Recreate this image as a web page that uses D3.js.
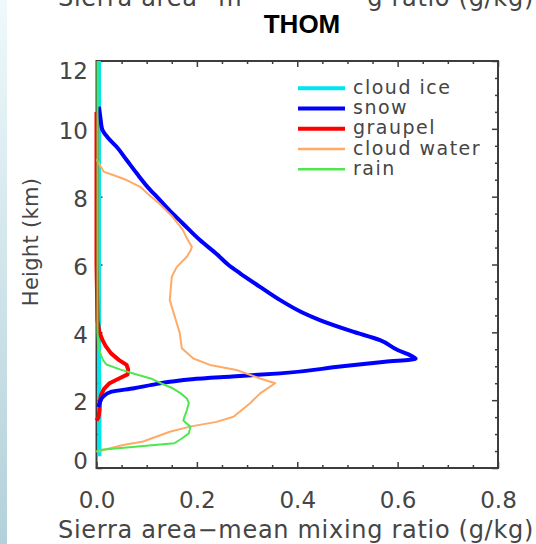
<!DOCTYPE html>
<html>
<head>
<meta charset="utf-8">
<script src="https://cdn.jsdelivr.net/npm/d3@7"></script>
<style>
  html, body { margin: 0; padding: 0; background: #fff; overflow: hidden; }
  text { font-family: "DejaVu Sans", sans-serif; }
</style>
</head>
<body>
<svg id="chart" width="536" height="544"></svg>
<script>
// ---- labels ----
const titleText = "THOM";
const xLabel = "Sierra area\u2212mean mixing ratio (g/kg)";
const yLabel = "Height (km)";
const xTicks = [0, 0.2, 0.4, 0.6, 0.8];
const xMinorTicks = [0.05, 0.1, 0.15, 0.25, 0.3, 0.35, 0.45, 0.5, 0.55, 0.65, 0.7, 0.75];
const yTicks = [0, 2, 4, 6, 8, 10, 12];
const yMinorTicks = [0.5, 1, 1.5, 2.5, 3, 3.5, 4.5, 5, 5.5, 6.5, 7, 7.5, 8.5, 9, 9.5, 10.5, 11, 11.5];

// ---- series: height (km) and area-mean mixing ratio (g/kg) ----
const seriesNames = ["cloud ice", "snow", "graupel", "cloud water", "rain"];
const seriesColors = ["#00e6ef", "#0000ff", "#ff0000", "#ffaa66", "#50e650"];

const iceHeight = [0.35, 1, 2, 3, 4, 5, 6, 7, 8, 9, 10, 11, 12];
const iceValue  = [0.006, 0.006, 0.006, 0.005, 0.005, 0.005, 0.005, 0.005, 0.005, 0.005, 0.005, 0.005, 0.005];

const snowHeight = [10.65, 10.3, 10.0, 9.75, 9.47, 9.08, 8.69, 8.2, 8.0, 7.6, 7.21, 6.72, 6.3, 6.0, 5.74,
                    5.35, 4.95, 4.6, 4.36, 4.02, 3.77, 3.48, 3.32, 3.22, 3.13, 3.0, 2.79, 2.7, 2.62, 2.55,
                    2.45, 2.35, 2.25, 2.1, 1.95, 1.8];
const snowValue  = [0.005, 0.008, 0.011, 0.022, 0.040, 0.060, 0.080, 0.107, 0.120, 0.145, 0.172, 0.206, 0.24, 0.262, 0.286,
                    0.325, 0.366, 0.408, 0.445, 0.511, 0.565, 0.600, 0.626, 0.636, 0.575, 0.49, 0.366, 0.27, 0.19, 0.15,
                    0.11, 0.075, 0.030, 0.013, 0.007, 0.004];

const graupelHeight = [10.5, 9.5, 8.8, 6, 4.35, 4.0, 3.77, 3.6, 3.38, 3.18, 3.04, 2.9, 2.76, 2.64, 2.5, 2.33, 2.15, 2.0, 1.71, 1.5, 1.4];
const graupelValue  = [0.0, 0.0, 0.0, 0.0, 0.002, 0.006, 0.012, 0.018, 0.029, 0.045, 0.060, 0.063, 0.062, 0.045, 0.026, 0.015, 0.009, 0.007, 0.006, 0.004, 0.0];

const cloudWaterHeight = [9.1, 8.74, 8.64, 8.49, 8.29, 8.02, 7.8, 7.4, 7.02, 6.72, 6.52, 6.43, 6.23, 5.93, 5.64, 4.95,
                          4.27, 3.97, 3.53, 3.23, 3.04, 2.89, 2.64, 2.5, 2.2, 1.91, 1.51, 1.36, 1.22, 1.07, 0.78, 0.68, 0.48];
const cloudWaterValue  = [0.0, 0.014, 0.033, 0.060, 0.087, 0.107, 0.125, 0.152, 0.172, 0.182, 0.190, 0.188, 0.180, 0.160, 0.150, 0.146,
                          0.160, 0.166, 0.170, 0.193, 0.226, 0.279, 0.326, 0.356, 0.326, 0.306, 0.273, 0.239, 0.186, 0.146, 0.093, 0.053, 0.0];

const rainHeight = [12, 11, 10, 9, 8, 7, 6, 5, 4.0, 3.7, 3.4, 3.18, 3.05, 2.9, 2.78, 2.64, 2.5, 2.35, 2.2, 2.05, 1.92,
                    1.7, 1.5, 1.4, 1.22, 1.02, 0.87, 0.73, 0.53, 0.48];
const rainValue  = [0.002, 0.002, 0.002, 0.002, 0.002, 0.002, 0.002, 0.002, 0.002, 0.003, 0.007, 0.013, 0.02, 0.048, 0.075, 0.108, 0.128, 0.152, 0.168, 0.180, 0.184,
                    0.180, 0.175, 0.173, 0.187, 0.184, 0.170, 0.155, 0.004, 0.0];

const svg = d3.select("#chart");
const textColor = "#454545";

// left edge backdrop strip
const defs = svg.append("defs");
const grad = defs.append("linearGradient").attr("id", "edge").attr("x1", 0).attr("y1", 0).attr("x2", 0).attr("y2", 1);
grad.append("stop").attr("offset", "0%").attr("stop-color", "#eef9fb");
grad.append("stop").attr("offset", "100%").attr("stop-color", "#b3d0da");
svg.append("rect").attr("x", 0).attr("y", 0).attr("width", 7).attr("height", 544).attr("fill", "url(#edge)");

const x = d3.scaleLinear().domain([0, 0.8]).range([96.5, 498]);
const y = d3.scaleLinear().domain([0, 12]).range([468, 61]);

// header strip: the axis title repeated above, with the middle taken by the title
(function () {
  const full = svg.append("text")
    .attr("x", 296).attr("y", 5.5)
    .attr("text-anchor", "middle")
    .attr("font-size", 24).attr("letter-spacing", 0.7)
    .text(xLabel);
  const node = full.node();
  const n = xLabel.length;
  let leftEnd = 0, rightStart = n;
  for (let i = 0; i < n; i++) {
    const px = node.getStartPositionOfChar(i).x;
    if (px < 228) leftEnd = i + 1;
    if (px >= 360 && rightStart === n) rightStart = i;
  }
  const leftX = node.getStartPositionOfChar(0).x;
  const rightX = node.getStartPositionOfChar(rightStart).x;
  full.remove();
  svg.append("text").attr("x", leftX).attr("y", 5.5)
    .attr("font-size", 24).attr("letter-spacing", 0.7).attr("fill", textColor)
    .text(xLabel.slice(0, leftEnd));
  svg.append("text").attr("x", rightX).attr("y", 5.5)
    .attr("font-size", 24).attr("letter-spacing", 0.7).attr("fill", textColor)
    .text(xLabel.slice(rightStart));
})();

svg.append("text")
  .attr("x", 302).attr("y", 33)
  .attr("text-anchor", "middle")
  .style("font-family", "'Liberation Sans', Arial, sans-serif")
  .attr("font-weight", "bold").attr("font-size", 26)
  .attr("fill", "#000")
  .text(titleText);

// ---- axes with inward ticks ----
const axisColor = "#3d3d3d";
function styleAxis(g) {
  g.select(".domain").remove();
  g.selectAll(".tick line").attr("stroke", axisColor).attr("stroke-width", 1.5);
  g.selectAll(".tick text").attr("fill", textColor).attr("font-size", 23)
    .style("font-family", "'DejaVu Sans', sans-serif");
}

// bottom
svg.append("g").attr("transform", `translate(0,${y(0)})`)
  .call(d3.axisBottom(x).tickValues(xMinorTicks).tickSize(-3).tickFormat(""))
  .call(styleAxis);
svg.append("g").attr("transform", `translate(0,${y(0)})`)
  .call(d3.axisBottom(x).tickValues(xTicks).tickSize(-6).tickPadding(24).tickFormat(d3.format(".1f")))
  .call(styleAxis);
// top
svg.append("g").attr("transform", `translate(0,${y(12)})`)
  .call(d3.axisTop(x).tickValues(xMinorTicks).tickSize(-3).tickFormat(""))
  .call(styleAxis);
svg.append("g").attr("transform", `translate(0,${y(12)})`)
  .call(d3.axisTop(x).tickValues(xTicks).tickSize(-6).tickFormat(""))
  .call(styleAxis);
// left
svg.append("g").attr("transform", `translate(${x(0)},0)`)
  .call(d3.axisLeft(y).tickValues(yMinorTicks).tickSize(-3).tickFormat(""))
  .call(styleAxis);
const yAxisG = svg.append("g").attr("transform", `translate(${x(0)},0)`)
  .call(d3.axisLeft(y).tickValues(yTicks).tickSize(-6).tickPadding(8.5).tickFormat(d3.format("d")))
  .call(styleAxis);
// keep the end labels inside the frame
yAxisG.selectAll(".tick text").attr("dy", d => d === 12 ? "0.75em" : d === 0 ? "0.02em" : "0.42em");
// right
svg.append("g").attr("transform", `translate(${x(0.8)},0)`)
  .call(d3.axisRight(y).tickValues(yMinorTicks).tickSize(-3).tickFormat(""))
  .call(styleAxis);
svg.append("g").attr("transform", `translate(${x(0.8)},0)`)
  .call(d3.axisRight(y).tickValues(yTicks).tickSize(-6).tickFormat(""))
  .call(styleAxis);

// frame
svg.append("rect")
  .attr("x", x(0)).attr("y", y(12))
  .attr("width", x(0.8) - x(0)).attr("height", y(0) - y(12))
  .attr("fill", "none").attr("stroke", axisColor).attr("stroke-width", 2);

// axis titles
svg.append("text")
  .attr("x", 296).attr("y", 538)
  .attr("text-anchor", "middle")
  .attr("font-size", 24).attr("letter-spacing", 0.7)
  .attr("fill", textColor)
  .text(xLabel);
svg.append("text")
  .attr("transform", "translate(38,242) rotate(-90)")
  .attr("text-anchor", "middle")
  .attr("font-size", 21).attr("letter-spacing", 0.3)
  .attr("fill", textColor)
  .text(yLabel);

// ---- profiles ----
const profiles = [
  { name: seriesNames[0], color: seriesColors[0], width: 4, h: iceHeight, v: iceValue, curve: d3.curveLinear },
  { name: seriesNames[2], color: seriesColors[2], width: 4, h: graupelHeight, v: graupelValue, curve: d3.curveLinear },
  { name: seriesNames[1], color: seriesColors[1], width: 4, h: snowHeight, v: snowValue, curve: d3.curveMonotoneY },
  { name: seriesNames[3], color: seriesColors[3], width: 2, h: cloudWaterHeight, v: cloudWaterValue, curve: d3.curveLinear },
  { name: seriesNames[4], color: seriesColors[4], width: 2, h: rainHeight, v: rainValue, curve: d3.curveLinear }
];

profiles.forEach(p => {
  const pts = p.h.map((h, i) => [p.v[i], h]);
  const line = d3.line().x(d => x(d[0])).y(d => y(d[1])).curve(p.curve);
  svg.append("path")
    .attr("d", line(pts))
    .attr("fill", "none")
    .attr("stroke", p.color)
    .attr("stroke-width", p.width)
    .attr("stroke-linejoin", "round")
    .attr("stroke-linecap", "butt");
});

// ---- legend ----
const legendWidths = [4, 4, 4, 2.5, 2.5];
const legend = svg.append("g");
seriesNames.forEach((name, i) => {
  const ly = 88.3 + i * 20.25;
  legend.append("line")
    .attr("x1", 298).attr("x2", 345).attr("y1", ly).attr("y2", ly)
    .attr("stroke", seriesColors[i]).attr("stroke-width", legendWidths[i]);
  legend.append("text")
    .attr("x", 353).attr("y", ly + 5.5)
    .attr("font-size", 19).attr("letter-spacing", 1.5)
    .attr("fill", textColor)
    .text(name);
});
</script>
</body>
</html>
